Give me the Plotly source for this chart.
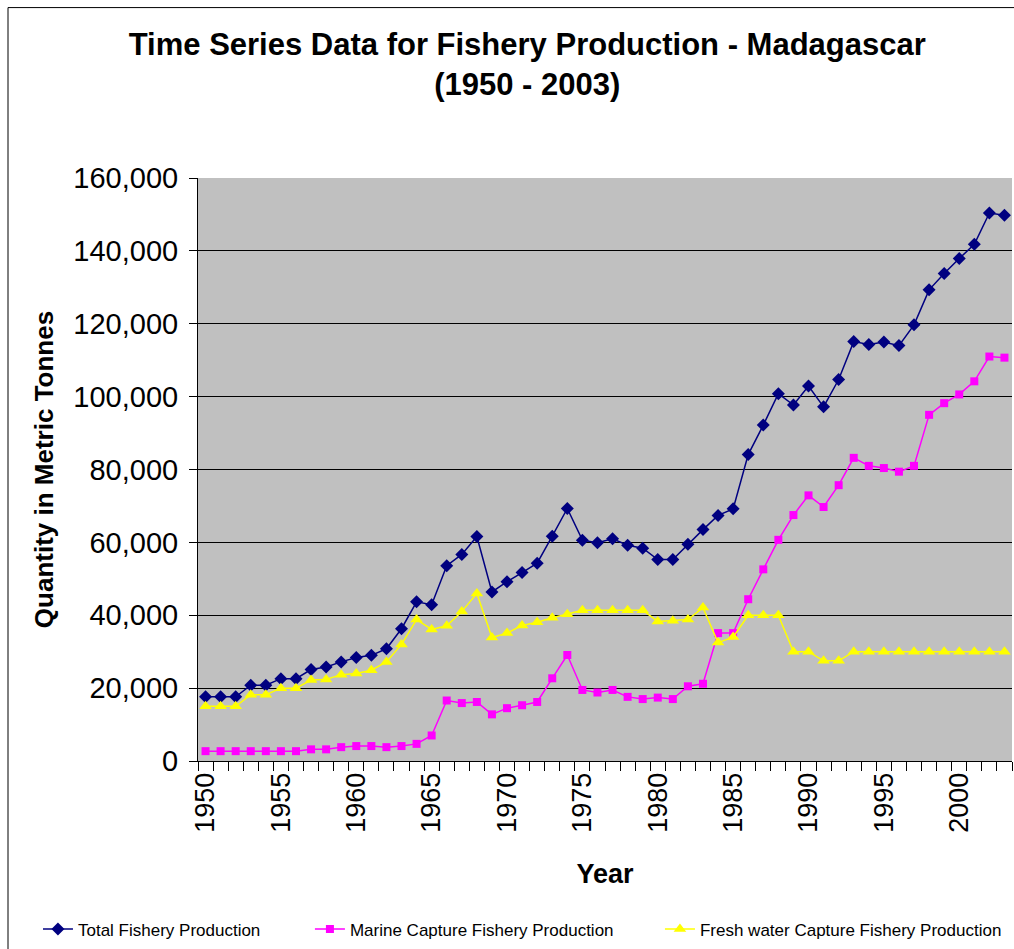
import plotly.graph_objects as go

years = list(range(1950, 2004))

total = [17.6, 17.6, 17.6, 20.8, 20.8, 22.6, 22.6, 25.1, 25.8, 27.2,
         28.4, 29.0, 30.8, 36.3, 43.7, 42.9, 53.6, 56.7, 61.6, 46.4,
         49.2, 51.7, 54.3, 61.7, 69.3, 60.6, 59.9, 61.0, 59.2, 58.4,
         55.3, 55.3, 59.5, 63.5, 67.4, 69.2, 84.1, 92.2, 100.8, 97.7,
         102.9, 97.2, 104.7, 115.1, 114.3, 115.0, 114.0, 119.7, 129.3, 133.8,
         137.9, 141.8, 150.4, 149.8]
marine = [2.7, 2.7, 2.7, 2.7, 2.7, 2.7, 2.7, 3.2, 3.2, 3.8,
          4.1, 4.1, 3.8, 4.1, 4.7, 7.0, 16.6, 15.9, 16.2, 12.8,
          14.5, 15.3, 16.2, 22.7, 29.1, 19.5, 18.8, 19.5, 17.6, 17.0,
          17.4, 17.0, 20.5, 21.2, 35.1, 35.1, 44.4, 52.6, 60.7, 67.5,
          72.9, 69.7, 75.7, 83.2, 81.0, 80.4, 79.4, 81.0, 95.0, 98.2,
          100.6, 104.2, 111.0, 110.7]
fresh = [15.0, 15.0, 15.0, 18.2, 18.2, 20.0, 20.0, 22.2, 22.4, 23.7,
         24.0, 24.9, 27.2, 32.0, 38.8, 36.1, 37.1, 41.0, 46.0, 33.9,
         35.1, 37.2, 38.1, 39.3, 40.3, 41.4, 41.4, 41.4, 41.4, 41.4,
         38.3, 38.5, 38.8, 42.1, 32.5, 34.0, 40.0, 40.0, 40.0, 30.0,
         30.0, 27.5, 27.5, 30.0, 30.0, 30.0, 30.0, 30.0, 30.0, 30.0,
         30.0, 30.0, 30.0, 30.0]

total_t = [v * 1000 for v in total]
marine_t = [v * 1000 for v in marine]
fresh_t = [v * 1000 for v in fresh]

FONT = "Liberation Sans, Arial, sans-serif"

fig = go.Figure()
fig.add_trace(go.Scatter(
    x=years, y=total_t, mode="lines+markers", name="Total Fishery Production",
    line=dict(color="#000080", width=1.5),
    marker=dict(symbol="diamond", size=10, color="#000080"),
    legend="legend", showlegend=True))
fig.add_trace(go.Scatter(
    x=years, y=marine_t, mode="lines+markers", name="Marine Capture Fishery Production",
    line=dict(color="#FF00FF", width=1.5),
    marker=dict(symbol="square", size=8, color="#FF00FF"),
    legend="legend2", showlegend=True))
fig.add_trace(go.Scatter(
    x=years, y=fresh_t, mode="lines+markers", name="Fresh water Capture Fishery Production",
    line=dict(color="#FFFF00", width=1.5),
    marker=dict(symbol="triangle-up", size=11, color="#FFFF00"),
    legend="legend3", showlegend=True))

leg_common = dict(orientation="h", yanchor="middle", y=-0.289, xanchor="left",
                  font=dict(family=FONT, size=17, color="black"),
                  bgcolor="rgba(0,0,0,0)")

fig.update_layout(
    width=1014, height=949,
    showlegend=True,
    margin=dict(l=198, r=2, t=178, b=186),
    paper_bgcolor="white",
    plot_bgcolor="#C0C0C0",
    font=dict(family=FONT, color="black"),
    title=dict(
        text="<b>Time Series Data for Fishery Production - Madagascar<br>(1950 - 2003)</b>",
        font=dict(family=FONT, size=31, color="black"),
        x=0.52, xanchor="center", xref="container",
        y=1 - 55 / 949, yanchor="middle", yref="container"),
    xaxis=dict(
        range=[1949.5, 2003.5],
        tickmode="linear", tick0=1950, dtick=5,
        ticks="", tickangle=-90,
        tickfont=dict(family=FONT, size=27, color="black"),
        showgrid=False, zeroline=False,
        showline=True, linecolor="black", linewidth=1,
        minor=dict(tick0=1949.5, dtick=1, ticks="outside", ticklen=9,
                   tickcolor="black", tickwidth=1, showgrid=False),
        title=dict(text="<b>Year</b>", font=dict(family=FONT, size=27, color="black"),
                   standoff=32),
    ),
    yaxis=dict(
        range=[0, 160000], tickmode="linear", tick0=0, dtick=20000,
        tickformat=",d",
        ticks="outside", ticklen=8, tickcolor="black",
        ticklabelstandoff=5,
        tickfont=dict(family=FONT, size=29, color="black"),
        showgrid=True, gridcolor="black", gridwidth=1,
        zeroline=False,
        showline=True, linecolor="black", linewidth=1,
        title=dict(text="<b>Quantity in Metric Tonnes</b>",
                   font=dict(family=FONT, size=26, color="black"),
                   standoff=12),
    ),
    legend=dict(x=-0.1966, **leg_common),
    legend2=dict(x=0.1375, **leg_common),
    legend3=dict(x=0.5675, **leg_common),
    shapes=[dict(type="rect", xref="paper", yref="paper",
                 x0=(8 - 198) / 814, x1=(1030 - 198) / 814,
                 y0=(763 - 960) / 585, y1=(763 - 7) / 585,
                 line=dict(color="black", width=1), fillcolor="rgba(0,0,0,0)",
                 layer="below")],
)

fig.write_html("out.html",
               config={"displayModeBar": False},
               post_script="document.body.style.margin='0px';document.body.style.overflow='hidden';")
